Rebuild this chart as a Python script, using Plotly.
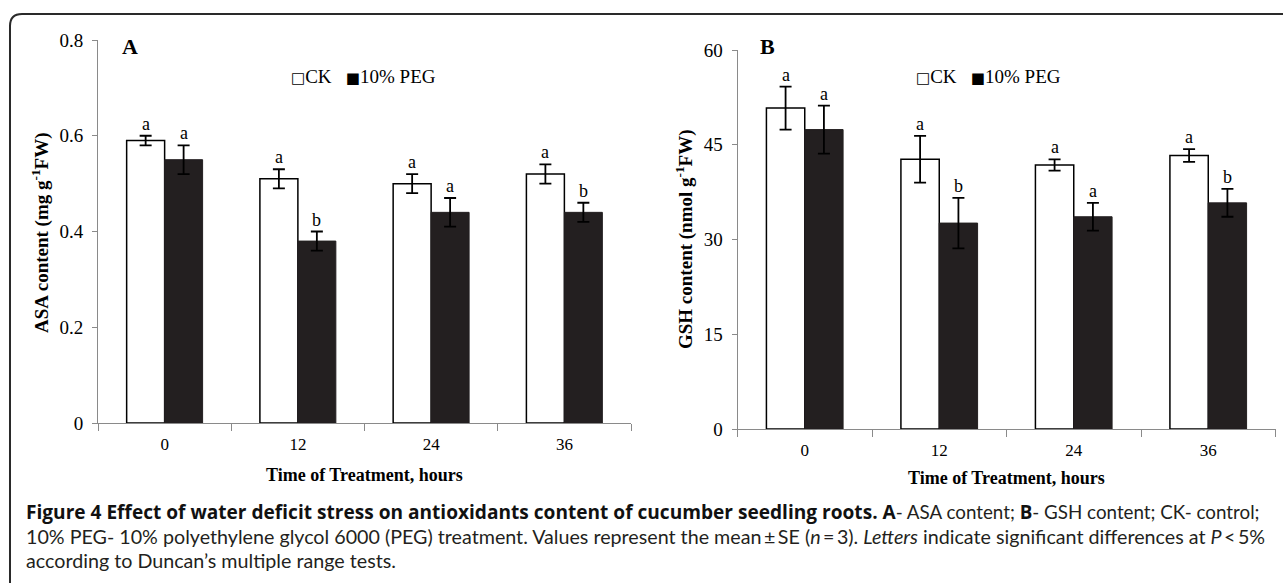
import plotly.graph_objects as go

# ---------------- data ----------------
hours = ["0", "12", "24", "36"]
series_names = ["CK", "10% PEG"]

asa_ck = [0.59, 0.51, 0.50, 0.52]
asa_ck_se = [0.01, 0.02, 0.02, 0.02]
asa_peg = [0.55, 0.38, 0.44, 0.44]
asa_peg_se = [0.03, 0.02, 0.03, 0.02]
asa_ck_letters = ["a", "a", "a", "a"]
asa_peg_letters = ["a", "b", "a", "b"]

gsh_ck = [50.8, 42.7, 41.8, 43.3]
gsh_ck_se = [3.4, 3.7, 0.9, 1.0]
gsh_peg = [47.4, 32.6, 33.6, 35.8]
gsh_peg_se = [3.8, 4.0, 2.2, 2.2]
gsh_ck_letters = ["a", "a", "a", "a"]
gsh_peg_letters = ["a", "b", "a", "b"]

asa_ticks = [0, 0.2, 0.4, 0.6, 0.8]
gsh_ticks = [0, 15, 30, 45, 60]

# ---------------- layout helpers ----------------
W, H = 1283, 583
SERIF = "Liberation Serif, Times New Roman, serif"
SANS = "Lato, Open Sans, sans-serif"
AX_GRAY = "#8a8a8a"


def px(x):
    return x / W


def py(y):
    return 1 - y / H


fig = go.Figure()

panels = [
    (asa_ck, asa_ck_se, asa_peg, asa_peg_se, asa_ck_letters, asa_peg_letters, "x", "y"),
    (gsh_ck, gsh_ck_se, gsh_peg, gsh_peg_se, gsh_ck_letters, gsh_peg_letters, "x2", "y2"),
]

annotations = []
for ck, ck_se, peg, peg_se, ck_l, peg_l, xa, ya in panels:
    fig.add_trace(go.Bar(
        x=hours, y=ck, name=series_names[0], xaxis=xa, yaxis=ya,
        marker=dict(color="white", line=dict(color="black", width=1.5)),
        error_y=dict(type="data", array=ck_se, color="black", thickness=1.8, width=6),
        showlegend=False,
    ))
    fig.add_trace(go.Bar(
        x=hours, y=peg, name=series_names[1], xaxis=xa, yaxis=ya,
        marker=dict(color="#231f20", line=dict(color="#231f20", width=1)),
        error_y=dict(type="data", array=peg_se, color="black", thickness=1.8, width=6),
        showlegend=False,
    ))
    for i in range(len(hours)):
        for vals, ses, lets, shift in ((ck, ck_se, ck_l, -19), (peg, peg_se, peg_l, 19)):
            annotations.append(dict(
                x=i, y=vals[i] + ses[i], xref=xa, yref=ya, text=lets[i],
                showarrow=False, xshift=shift, yshift=12, xanchor="center", yanchor="middle",
                font=dict(family=SERIF, size=18, color="black"),
            ))


def paper_text(txt, x, y, size, family=SERIF, angle=0, xanchor="center"):
    return dict(x=px(x), y=py(y), xref="paper", yref="paper", text=txt, textangle=angle,
                showarrow=False, xanchor=xanchor, yanchor="middle",
                font=dict(family=family, size=size, color="black"))


# panel letters
annotations.append(paper_text("<b>A</b>", 130, 47, 22))
annotations.append(paper_text("<b>B</b>", 767, 47, 22))

# legends
sq = "<span style='font-family:DejaVu Sans;font-size:15px'>%s</span>"
leg_txt = sq % "\u25a1" + series_names[0] + "\u00a0\u00a0\u00a0" + sq % "\u25a0" + series_names[1]
annotations.append(paper_text(leg_txt, 363.5, 77, 19))
annotations.append(paper_text(leg_txt, 989, 77, 19))

# axis titles
annotations.append(paper_text("<b>ASA content (mg g<sup>-1</sup>FW)</b>", 41, 233, 19, angle=-90))
annotations.append(paper_text("<b>GSH content (nmol g<sup>-1</sup>FW)</b>", 685, 239, 19, angle=-90))
annotations.append(paper_text("<b>Time of Treatment, hours</b>", 364.5, 475, 18))
annotations.append(paper_text("<b>Time of Treatment, hours</b>", 1006.5, 478, 18))

# caption
bold_span = "<span style='font-family:Open Sans;font-size:19.1px;color:#111'><b>%s</b></span>"
rest_span = "<span style='font-size:18.8px'>%s</span>"
cap_lines = [
    bold_span % "Figure 4 Effect of water deficit stress on antioxidants content of cucumber seedling roots. A"
    + rest_span % "- ASA content; " + bold_span.replace("19.1", "18.8") % "B"
    + rest_span % "- GSH content; CK- control;",
    "10% PEG- 10% polyethylene glycol 6000 (PEG) treatment. Values represent the mean\u2009\u00b1\u2009SE "
    "(<i>n</i>\u2009=\u20093). <i>Letters</i> indicate significant differences at <i>P</i>\u2009&lt;\u20095%",
    "according to Duncan\u2019s multiple range tests.",
]
for i, line in enumerate(cap_lines):
    a = paper_text(line, 24, 512 + 24 * i, 19.7, family=SANS, xanchor="left")
    a["font"]["color"] = "#231f20"
    annotations.append(a)

# frame
x0, yt, r = 10, 14, 12
frame_path = "M %f,%f L %f,%f Q %f,%f %f,%f L %f,%f" % (
    1.05, py(yt), px(x0 + r), py(yt), px(x0), py(yt), px(x0), py(yt + r), px(x0), -0.05)

xcommon = dict(type="category", range=[-0.5, 3.5], showline=True, linecolor=AX_GRAY, linewidth=1,
               ticks="outside", tickson="boundaries", ticklen=7, tickcolor=AX_GRAY, showgrid=False,
               zeroline=False, automargin=False,
               tickfont=dict(family=SERIF, size=17, color="black"), ticklabelstandoff=6)
ycommon = dict(showline=True, linecolor=AX_GRAY, linewidth=1, ticks="outside", ticklen=5,
               tickcolor=AX_GRAY, showgrid=False, zeroline=False, automargin=False,
               tickfont=dict(family=SERIF, size=19, color="black"), ticklabelstandoff=5)

fig.update_layout(
    width=W, height=H, margin=dict(l=0, r=0, t=0, b=0, pad=0), autosize=False,
    paper_bgcolor="white", plot_bgcolor="white",
    barmode="group", bargap=0.43, bargroupgap=0,
    xaxis=dict(domain=[px(98), px(631)], anchor="y", **xcommon),
    yaxis=dict(domain=[py(423), py(40)], anchor="x", range=[0, 0.8], tickvals=asa_ticks, **ycommon),
    xaxis2=dict(domain=[px(737.5), px(1275.5)], anchor="y2", **xcommon),
    yaxis2=dict(domain=[py(429), py(50)], anchor="x2", range=[0, 60], tickvals=gsh_ticks, **ycommon),
    annotations=annotations,
    shapes=[dict(type="path", path=frame_path, xref="paper", yref="paper",
                 line=dict(color="#2a2a2a", width=2))],
)

fig.write_html(
    "out.html",
    config={"displayModeBar": False},
    post_script="document.body.style.margin='0';document.body.style.overflow='hidden';",
)
